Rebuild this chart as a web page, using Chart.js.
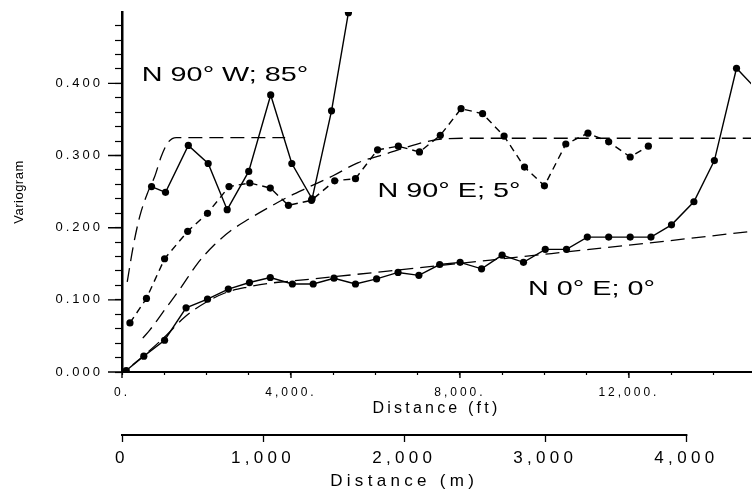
<!DOCTYPE html>
<html>
<head>
<meta charset="utf-8">
<title>Variogram</title>
<script src="https://cdn.jsdelivr.net/npm/chart.js@4.4.1/dist/chart.umd.min.js"></script>
<style>
  body { margin: 0; background: #fff; }
  canvas { display: block; }
</style>
</head>
<body>
<canvas id="variogram" width="755" height="493"></canvas>
<script>
const lagN0E = [100, 516, 1008, 1517, 2024, 2517, 3018, 3510, 4033, 4526, 5018, 5527, 6027, 6535, 7028, 7520,
  8004, 8512, 8998, 9504, 10020, 10522, 11015, 11521, 12030, 12522, 13008, 13538, 14023, 14547, 15050];
const gamN0E = [0.002, 0.022, 0.044, 0.089, 0.101, 0.115, 0.124, 0.131, 0.122, 0.122, 0.130, 0.122, 0.129, 0.138, 0.134, 0.149,
  0.152, 0.143, 0.162, 0.152, 0.170, 0.170, 0.187, 0.187, 0.187, 0.187, 0.204, 0.236, 0.293, 0.421, 0.390];

const lagN90W = [700, 1030, 1570, 2040, 2490, 3000, 3520, 4020, 4500, 4960, 5360];
const gamN90W = [0.257, 0.249, 0.314, 0.289, 0.225, 0.278, 0.384, 0.289, 0.240, 0.362, 0.498];

const lagN90E = [188, 579, 1008, 1555, 2024, 2533, 3025, 3510, 3940, 4486, 5035, 5527, 6050, 6542, 7042, 7535,
  8027, 8536, 9045, 9528, 10000, 10506, 11030, 11521, 12030, 12460];
const gamN90E = [0.068, 0.102, 0.157, 0.195, 0.220, 0.257, 0.262, 0.255, 0.231, 0.238, 0.265, 0.268, 0.308, 0.313, 0.305, 0.328,
  0.365, 0.358, 0.327, 0.284, 0.258, 0.316, 0.331, 0.319, 0.298, 0.313];

// fitted models (dashed curves)
const modelLagN0E = [250, 500, 1000, 1500, 2000, 2500, 3000, 3500, 4000, 5500, 9500, 12500, 14900];
const modelN0E = [0.010, 0.022, 0.048, 0.077, 0.097, 0.111, 0.118, 0.123, 0.126, 0.135, 0.160, 0.179, 0.195];

const modelLagN90W = [124, 265, 422, 617, 774, 931, 1086, 1283, 3862];
const modelN90W = [0.125, 0.174, 0.216, 0.250, 0.271, 0.299, 0.318, 0.325, 0.325];

const modelLagN90E = [492, 657, 1008, 1407, 1782, 2181, 2580, 3002, 3471, 3940, 4409, 4995, 5581, 6285, 6988, 7457, 8161, 14900];
const modelN90E = [0.047, 0.058, 0.086, 0.118, 0.150, 0.176, 0.196, 0.212, 0.228, 0.243, 0.256, 0.272, 0.290, 0.303, 0.316, 0.322, 0.324, 0.324];

const curveNames = ['N 0° E; 0°', 'N 90° W; 85°', 'N 90° E; 5°'];

const yTickValues = [0, 0.1, 0.2, 0.3, 0.4];
const yTickLabels = ['0.000', '0.100', '0.200', '0.300', '0.400'];
const ftMinorTicks = [0, 1000, 2000, 3000, 4000, 5000, 6000, 7000, 8000, 9000, 10000, 11000, 12000, 13000, 14000];
const ftTickValues = [0, 4000, 8000, 12000];
const ftTickLabels = ['0.', '4,000.', '8,000.', '12,000.'];
const mTickValues = [0, 1000, 2000, 3000, 4000];
const mTickLabels = ['0', '1,000', '2,000', '3,000', '4,000'];

const FONT = '"Liberation Sans", Arial, Helvetica, sans-serif';
Chart.defaults.font.family = FONT;
Chart.defaults.color = '#000';

function pairs(xs, ys) {
  return xs.map((x, i) => ({ x: x, y: ys[i] }));
}

function tickText(values, labels, v) {
  const i = values.findIndex(t => Math.abs(t - v) < 1e-9);
  return i < 0 ? '' : labels[i];
}

function noPadding(s) {
  s.paddingLeft = 0;
  s.paddingRight = 0;
  s.paddingTop = 0;
  s.paddingBottom = 0;
}

// the scanned figure uses a wide lettering: spread glyphs per scale
function wrapDraw(scale, name, gap, shift) {
  const orig = scale[name];
  scale[name] = function () {
    const ctx = this.ctx;
    ctx.save();
    ctx.letterSpacing = gap + 'px';
    if (shift) ctx.translate(shift(this), 0);
    orig.apply(this, arguments);
    ctx.restore();
  };
}

const spacingPlugin = {
  id: 'spacing',
  afterLayout(chart, args, opts) {
    Object.keys(opts.scales).forEach(id => {
      const s = chart.scales[id];
      if (!s || s.spaced) return;
      s.spaced = true;
      const [tickGap, titleGap] = opts.scales[id];
      wrapDraw(s, 'drawLabels', tickGap);
      // metre title sits under the visible part of its axis
      const shift = id === 'm'
        ? sc => (sc.getPixelForValue(mTickValues[0]) + sc.getPixelForValue(mTickValues[mTickValues.length - 1])) / 2 - (sc.left + sc.right) / 2
        : null;
      wrapDraw(s, 'drawTitle', titleGap, shift);
    });
  },
};

// longer major ticks and the short metre axis line
const axisPlugin = {
  id: 'axisExtras',
  afterDraw(chart) {
    const { ctx } = chart;
    const { x, y, m } = chart.scales;
    ctx.save();
    ctx.strokeStyle = '#000';
    ctx.lineWidth = 1.4;
    ctx.beginPath();
    yTickValues.forEach(v => {
      const py = y.getPixelForValue(v);
      ctx.moveTo(y.right - 14, py);
      ctx.lineTo(y.right, py);
    });
    ftTickValues.forEach(v => {
      const px = x.getPixelForValue(v);
      ctx.moveTo(px, x.top);
      ctx.lineTo(px, x.top + 6);
    });
    ctx.stroke();
    ctx.lineWidth = 2;
    ctx.beginPath();
    ctx.moveTo(m.getPixelForValue(mTickValues[0]) - 1, m.top);
    ctx.lineTo(m.getPixelForValue(mTickValues[mTickValues.length - 1]) + 1, m.top);
    ctx.stroke();
    ctx.restore();
  },
};

const curveLabelPlugin = {
  id: 'curveLabels',
  afterDatasetsDraw(chart, args, opts) {
    const { ctx } = chart;
    const { x, y } = chart.scales;
    ctx.save();
    ctx.fillStyle = '#000';
    ctx.font = opts.size + 'px ' + FONT;
    ctx.textBaseline = 'middle';
    ctx.textAlign = 'left';
    opts.items.forEach(item => {
      ctx.save();
      ctx.translate(x.getPixelForValue(item.x), y.getPixelForValue(item.y));
      ctx.scale(opts.stretch, 1);
      ctx.fillText(item.text, 0, 0);
      ctx.restore();
    });
    ctx.restore();
  },
};

const dotted = {
  xAxisID: 'x', yAxisID: 'y',
  borderColor: '#000', borderWidth: 1.4,
  pointRadius: 3.6, pointBackgroundColor: '#000', pointBorderWidth: 0,
  tension: 0, fill: false,
};
const model = {
  xAxisID: 'x', yAxisID: 'y',
  borderColor: '#000', borderWidth: 1.3, borderDash: [14, 7],
  pointRadius: 0, fill: false, cubicInterpolationMode: 'monotone',
};

const ctx = document.getElementById('variogram');
const chart = new Chart(ctx, {
  type: 'line',
  data: {
    datasets: [
      Object.assign({ label: curveNames[0] + ' model', data: pairs(modelLagN0E, modelN0E) }, model),
      Object.assign({ label: curveNames[1] + ' model', data: pairs(modelLagN90W, modelN90W) }, model),
      Object.assign({ label: curveNames[2] + ' model', data: pairs(modelLagN90E, modelN90E) }, model),
      Object.assign({ label: curveNames[0], data: pairs(lagN0E, gamN0E) }, dotted),
      Object.assign({ label: curveNames[1], data: pairs(lagN90W, gamN90W) }, dotted),
      Object.assign({ label: curveNames[2], data: pairs(lagN90E, gamN90E) }, dotted, { borderDash: [7, 5] }),
    ],
  },
  options: {
    responsive: false,
    animation: false,
    layout: { padding: { top: 12, right: 0, bottom: 0, left: 0 } },
    plugins: {
      legend: { display: false },
      tooltip: { enabled: false },
      spacing: { scales: { y: [3, 0.5], x: [3, 3.2], m: [4.3, 4.3] } },
      curveLabels: {
        size: 21,
        stretch: 1.37,
        items: [
          { text: curveNames[1], x: 470, y: 0.411 },
          { text: curveNames[2], x: 6050, y: 0.251 },
          { text: curveNames[0], x: 9610, y: 0.115 },
        ],
      },
    },
    scales: {
      x: {
        type: 'linear', axis: 'x', position: 'bottom', weight: 0,
        min: 0, max: 14890,
        border: { color: '#000', width: 2 },
        grid: { drawOnChartArea: false, tickLength: 3, tickColor: '#000', tickWidth: 1.2 },
        ticks: {
          autoSkip: false, maxRotation: 0,
          padding: 10, color: '#000', font: { size: 12 },
          callback: v => tickText(ftTickValues, ftTickLabels, v),
        },
        afterBuildTicks: s => { s.ticks = ftMinorTicks.map(v => ({ value: v })); },
        title: { display: true, text: 'Distance (ft)', color: '#000', font: { size: 16 }, padding: { top: 0, bottom: 17 } },
        afterFit: s => { s.height = 63; noPadding(s); },
      },
      m: {
        type: 'linear', axis: 'x', position: 'bottom', weight: 1,
        min: 0, max: 4458,
        border: { display: false },
        grid: { drawOnChartArea: false, tickLength: 7, tickColor: '#000', tickWidth: 1.3 },
        ticks: {
          autoSkip: false, maxRotation: 0,
          padding: 6, color: '#000', font: { size: 17 },
          callback: v => tickText(mTickValues, mTickLabels, v),
        },
        afterBuildTicks: s => { s.ticks = mTickValues.map(v => ({ value: v })); },
        title: { display: true, text: 'Distance (m)', color: '#000', font: { size: 17 }, padding: { top: 0, bottom: 1 } },
        afterFit: s => { s.height = 58; noPadding(s); },
      },
      y: {
        type: 'linear', position: 'left',
        min: 0, max: 0.499,
        border: { color: '#000', width: 2.5 },
        grid: { drawOnChartArea: false, tickLength: 7, tickColor: '#000', tickWidth: 1.2 },
        ticks: {
          stepSize: 0.02, autoSkip: false, includeBounds: false, maxTicksLimit: 100,
          padding: 12, color: '#000', font: { size: 13 },
          callback: v => tickText(yTickValues, yTickLabels, v),
        },
        title: { display: true, text: 'Variogram', color: '#000', font: { size: 13 }, padding: { top: 12, bottom: 0 } },
        afterFit: s => { s.width = 122; noPadding(s); },
      },
    },
  },
  plugins: [spacingPlugin, axisPlugin, curveLabelPlugin],
});
</script>
</body>
</html>
